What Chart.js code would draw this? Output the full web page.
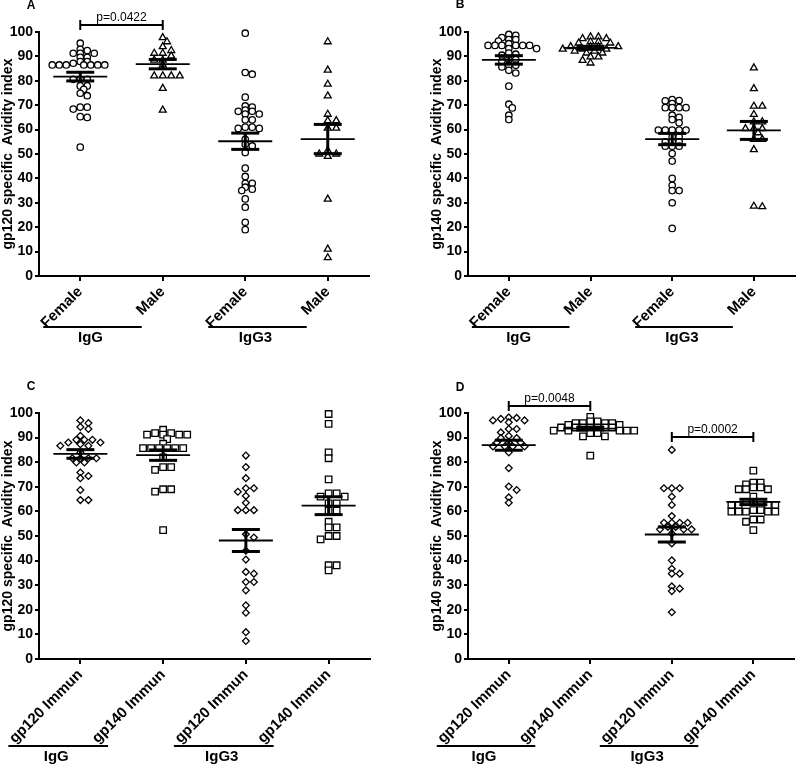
<!DOCTYPE html>
<html>
<head>
<meta charset="utf-8">
<script src="https://cdn.jsdelivr.net/npm/chart.js@4.4.1/dist/chart.umd.min.js"></script>
<style>
  body { margin: 0; background: #fff; width: 800px; height: 764px; position: relative; overflow: hidden; }
  canvas { position: absolute; }
</style>
</head>
<body>
<canvas id="panelA" width="400" height="380" style="left:0;top:0"></canvas>
<canvas id="panelB" width="400" height="380" style="left:400px;top:0"></canvas>
<canvas id="panelC" width="400" height="384" style="left:0;top:380px"></canvas>
<canvas id="panelD" width="400" height="384" style="left:400px;top:380px"></canvas>
<script>
// categories / tick labels
const sexLabels = ['Female', 'Male', 'Female', 'Male'];
const immunLabels = ['gp120 Immun', 'gp140 Immun', 'gp120 Immun', 'gp140 Immun'];
const isotypes = ['IgG', 'IgG3'];
const yMin = 0, yMax = 100, yStep = 10;

// A: gp120 specific avidity by sex
const a120IgGFemale = [95.4, 92.9, 92.4, 91.3, 91.3, 91.3, 89.6, 89.6, 87.9, 87.9, 87.2, 86.5, 86.5, 86.5, 86.5, 86.5, 86.5, 86.5, 80.6, 80.6, 80.6, 77.9, 77.9, 76.5, 74.9, 73.9, 69.2, 69.2, 68.4, 65.3, 65.0, 52.8];
const a120IgGMale = [97.7, 96.0, 94.0, 92.4, 91.3, 91.3, 90.2, 88.5, 88.5, 86.5, 82.0, 82.0, 82.0, 82.0, 76.9, 68.0];
const a120IgG3Female = [99.5, 83.4, 82.7, 73.3, 69.7, 69.2, 68.0, 67.5, 67.5, 66.4, 66.4, 64.0, 64.0, 61.0, 60.5, 60.5, 61.0, 56.0, 54.0, 53.3, 50.6, 44.2, 40.8, 38.0, 38.0, 36.4, 35.0, 35.6, 31.6, 28.2, 22.0, 19.0];
const a120IgG3Male = [96.0, 84.4, 78.6, 73.8, 66.3, 63.7, 63.7, 60.6, 60.6, 51.4, 50.0, 50.0, 49.0, 31.5, 11.0, 7.5];

// B: gp140 specific avidity by sex
const a140IgGFemale = [99.0, 98.6, 97.7, 96.9, 96.9, 96.3, 95.2, 94.5, 94.5, 94.5, 94.5, 94.5, 94.5, 93.2, 93.2, 91.4, 90.9, 90.5, 88.7, 88.7, 88.1, 86.4, 86.4, 85.7, 84.3, 83.2, 77.8, 70.4, 68.9, 65.9, 64.1];
const a140IgGMale = [98.0, 98.0, 97.3, 97.3, 96.0, 96.0, 95.5, 95.5, 94.0, 94.0, 94.0, 94.0, 93.0, 93.0, 93.0, 92.2, 92.2, 91.4, 91.4, 89.8, 89.8, 88.4, 87.3];
const a140IgG3Female = [72.3, 71.8, 71.9, 70.7, 69.0, 69.0, 69.0, 69.0, 65.9, 65.0, 64.1, 62.8, 59.8, 59.8, 59.8, 59.8, 59.8, 57.0, 57.0, 55.0, 55.0, 55.0, 53.2, 53.2, 53.2, 50.2, 47.1, 40.0, 37.2, 35.0, 35.0, 30.0, 19.5];
const a140IgG3Male = [85.3, 76.8, 69.6, 69.6, 66.2, 63.2, 63.2, 60.4, 60.4, 60.4, 58.7, 56.0, 56.0, 51.8, 28.4, 28.6];

// C: gp120 specific avidity by immunogen
const a120IgGgp120 = [97.0, 95.9, 94.3, 93.5, 90.7, 89.1, 89.1, 89.1, 88.0, 88.0, 87.3, 86.7, 86.7, 84.0, 81.6, 81.6, 81.6, 81.6, 79.9, 79.9, 75.8, 74.4, 73.5, 68.7, 64.6, 64.6];
const a120IgGgp140 = [93.2, 91.8, 91.8, 91.2, 91.2, 91.2, 91.2, 89.4, 87.5, 85.7, 85.7, 85.7, 85.7, 85.7, 85.7, 82.0, 78.0, 78.0, 76.9, 69.0, 69.0, 68.0, 52.4];
const a120IgG3gp120 = [82.7, 78.0, 73.5, 69.4, 69.4, 68.0, 66.3, 63.5, 60.5, 60.5, 60.5, 50.7, 49.4, 44.0, 40.4, 35.4, 34.7, 31.3, 31.3, 27.9, 21.8, 18.8, 10.9, 7.3];
const a120IgG3gp140 = [99.6, 95.6, 84.0, 81.6, 73.0, 67.3, 67.3, 66.0, 66.0, 63.3, 63.3, 60.3, 60.3, 55.8, 53.5, 53.5, 50.0, 50.0, 48.6, 38.1, 38.1, 36.0];

// D: gp140 specific avidity by immunogen
const a140IgGgp120 = [98.2, 98.0, 97.6, 97.0, 97.0, 96.2, 93.5, 93.5, 92.1, 90.7, 89.8, 89.8, 88.0, 88.0, 88.0, 86.4, 86.4, 86.4, 86.4, 84.0, 77.6, 70.1, 68.7, 65.7, 63.5];
const a140IgGgp140 = [98.4, 96.6, 96.6, 95.9, 95.9, 95.9, 95.9, 95.2, 95.2, 94.1, 94.1, 94.1, 94.1, 94.1, 94.1, 94.1, 92.8, 92.8, 92.8, 92.8, 92.8, 91.8, 91.8, 90.5, 90.5, 82.7];
const a140IgG3gp120 = [85.0, 69.4, 69.4, 69.4, 66.0, 62.6, 58.1, 55.4, 55.4, 55.4, 55.4, 53.7, 53.7, 52.7, 52.7, 52.7, 51.0, 47.0, 40.1, 36.7, 34.7, 34.7, 29.5, 28.6, 27.6, 19.0];
const a140IgG3gp140 = [76.6, 71.7, 71.7, 71.0, 69.8, 69.8, 69.0, 69.0, 69.0, 66.0, 63.9, 63.9, 63.9, 62.6, 62.6, 62.6, 62.6, 60.5, 60.5, 59.9, 59.9, 59.9, 59.9, 59.9, 56.7, 56.7, 55.8, 52.4];

// significance labels
const pA = 'p=0.0422';
const pD1 = 'p=0.0048';
const pD2 = 'p=0.0002';

const FONT = "'Liberation Sans', Arial, sans-serif";
const PX_Y = 2.44;   // approx px per avidity unit
const PX_X = 82.5;   // approx px per category

// simple beeswarm; points may overlap a bit vertically like the Prism layout
function swarm(vals, gap) {
  const order = vals.map((v, i) => i).sort((a, b) => vals[b] - vals[a]);
  const placed = [];
  const offs = new Array(vals.length);
  const vgap = gap * 0.55;
  order.forEach(i => {
    const y = vals[i] * PX_Y;
    let o = 0;
    for (let k = 0; k < 80; k++) {
      const c = (k % 2 ? 1 : -1) * Math.ceil(k / 2) * gap / 2;
      const ok = placed.every(p => {
        const dx = (p.x - c) / gap, dy = (p.y - y) / vgap;
        return dx * dx + dy * dy >= 0.999;
      });
      if (ok) { o = c; break; }
    }
    placed.push({ x: o, y: y });
    offs[i] = o / PX_X;
  });
  return offs;
}

function stats(vals) {
  const n = vals.length;
  const m = vals.reduce((a, b) => a + b, 0) / n;
  const sd = Math.sqrt(vals.reduce((a, b) => a + (b - m) * (b - m), 0) / (n - 1));
  return { mean: m, sem: sd / Math.sqrt(n) };
}

function line(ctx, x1, y1, x2, y2) {
  ctx.beginPath(); ctx.moveTo(x1, y1); ctx.lineTo(x2, y2); ctx.stroke();
}

function makePanel(id, cfg) {
  const datasets = cfg.groups.map((vals, gi) => {
    const offs = swarm(vals, cfg.gaps[gi]);
    return {
      data: vals.map((v, i) => ({ x: gi + 1 + offs[i], y: v })),
      pointStyle: cfg.styles[gi],
      pointRadius: cfg.radii[gi],
      pointBorderWidth: 1.3,
      pointBorderColor: '#000',
      pointBackgroundColor: '#fff',
      clip: false
    };
  });

  const overlay = {
    id: 'overlay' + id,
    afterDatasetsDraw(chart) {
      const { ctx, scales: { x, y } } = chart;
      ctx.save();
      ctx.strokeStyle = '#000';
      cfg.groups.forEach((vals, gi) => {
        const s = stats(vals);
        const cx = x.getPixelForValue(gi + 1);
        const ym = y.getPixelForValue(s.mean);
        const yh = y.getPixelForValue(s.mean + s.sem);
        const yl = y.getPixelForValue(s.mean - s.sem);
        ctx.lineWidth = 1.8;
        line(ctx, cx - 27, ym, cx + 27, ym);
        ctx.lineWidth = 3;
        line(ctx, cx, yh, cx, yl);
        line(ctx, cx - 14, yh, cx + 14, yh);
        line(ctx, cx - 14, yl, cx + 14, yl);
      });
      ctx.restore();
    },
    afterDraw(chart) {
      const { ctx, chartArea, scales: { x } } = chart;
      ctx.save();
      ctx.strokeStyle = '#000';
      ctx.fillStyle = '#000';
      // panel letter
      ctx.font = 'bold 12px ' + FONT;
      ctx.textAlign = 'center';
      ctx.textBaseline = 'middle';
      ctx.fillText(cfg.letter, chartArea.left - 8, cfg.letterY);
      // p-value brackets
      cfg.brackets.forEach(b => {
        const xa = x.getPixelForValue(b.from), xb = x.getPixelForValue(b.to);
        const ly = chartArea.top + b.dy;
        ctx.lineWidth = 2;
        line(ctx, xa, ly, xb, ly);
        line(ctx, xa, ly - 5, xa, ly + 5);
        line(ctx, xb, ly - 5, xb, ly + 5);
        ctx.font = '12px ' + FONT;
        ctx.textBaseline = 'alphabetic';
        ctx.fillText(b.text, (xa + xb) / 2, ly - 4);
      });
      // isotype group labels under the axis
      ctx.font = 'bold 15px ' + FONT;
      ctx.textBaseline = 'middle';
      isotypes.forEach((name, k) => {
        const x1 = x.getPixelForValue(2 * k + 1) + cfg.under[0];
        const x2 = x.getPixelForValue(2 * k + 2) + cfg.under[1];
        ctx.lineWidth = 2;
        line(ctx, x1, cfg.underY, x2, cfg.underY);
        ctx.fillText(name, (x1 + x2) / 2 - 2, cfg.underY + 11);
      });
      ctx.restore();
    }
  };

  return new Chart(document.getElementById(id), {
    type: 'scatter',
    data: { datasets },
    plugins: [overlay],
    options: {
      responsive: false,
      animation: false,
      layout: { padding: { top: cfg.top, left: cfg.padLeft, right: cfg.padRight, bottom: 0 } },
      plugins: { legend: { display: false }, tooltip: { enabled: false } },
      scales: {
        x: {
          type: 'linear',
          min: 0.5,
          max: 4.5,
          afterBuildTicks: s => { s.ticks = [1, 2, 3, 4].map(v => ({ value: v })); },
          afterFit: s => { s.height = cfg.xHeight; },
          border: { display: true, color: '#000', width: 2 },
          grid: { display: true, drawOnChartArea: false, drawTicks: true, tickLength: 5, color: '#000', lineWidth: 2 },
          ticks: {
            autoSkip: false,
            minRotation: 45,
            maxRotation: 45,
            padding: 2,
            color: '#000',
            font: { family: FONT, size: 15, weight: 'bold' },
            callback: v => cfg.cats[v - 1]
          }
        },
        y: {
          min: yMin,
          max: yMax,
          afterFit: s => { s.width = 39; },
          border: { display: true, color: '#000', width: 2 },
          grid: { display: true, drawOnChartArea: false, drawTicks: true, tickLength: 4, color: '#000', lineWidth: 2 },
          ticks: {
            stepSize: yStep,
            padding: 2,
            color: '#000',
            font: { family: FONT, size: 14, weight: 'bold' }
          },
          title: {
            display: true,
            text: cfg.yTitle,
            color: '#000',
            padding: { top: 0, bottom: 0 },
            font: { family: FONT, size: 14, weight: 'bold' }
          }
        }
      }
    }
  });
}

const sexStyles = ['circle', 'triangle', 'circle', 'triangle'];
const immStyles = ['rectRot', 'rect', 'rectRot', 'rect'];

makePanel('panelA', {
  letter: 'A', letterY: 6, top: 32, padLeft: 0, padRight: 31, xHeight: 104,
  cats: sexLabels, yTitle: 'gp120 specific  Avidity index',
  groups: [a120IgGFemale, a120IgGMale, a120IgG3Female, a120IgG3Male],
  styles: sexStyles, radii: [3.2, 4, 3.2, 4], gaps: [7, 8.5, 7, 8.5],
  brackets: [{ from: 1, to: 2, dy: -7, text: pA }],
  under: [-37, -21], underY: 327
});

makePanel('panelB', {
  letter: 'B', letterY: 5, top: 32, padLeft: 29, padRight: 2, xHeight: 104,
  cats: sexLabels, yTitle: 'gp140 specific  Avidity index',
  groups: [a140IgGFemale, a140IgGMale, a140IgG3Female, a140IgG3Male],
  styles: sexStyles, radii: [3.2, 4, 3.2, 4], gaps: [7, 8, 7, 8.5],
  brackets: [],
  under: [-37, -21], underY: 327
});

makePanel('panelC', {
  letter: 'C', letterY: 7, top: 33, padLeft: 0, padRight: 30, xHeight: 105,
  cats: immunLabels, yTitle: 'gp120 specific  Avidity index',
  groups: [a120IgGgp120, a120IgGgp140, a120IgG3gp120, a120IgG3gp140],
  styles: immStyles, radii: [3.4, 4.6, 3.4, 4.6], gaps: [8, 8, 8, 8],
  brackets: [],
  under: [-72, -55], underY: 366
});

makePanel('panelD', {
  letter: 'D', letterY: 8, top: 33, padLeft: 29, padRight: 2, xHeight: 105,
  cats: immunLabels, yTitle: 'gp140 specific  Avidity index',
  groups: [a140IgGgp120, a140IgGgp140, a140IgG3gp120, a140IgG3gp140],
  styles: immStyles, radii: [3.4, 4.6, 3.4, 4.6], gaps: [8, 7.4, 8, 7.4],
  brackets: [{ from: 1, to: 2, dy: -7, text: pD1 }, { from: 3, to: 4, dy: 24, text: pD2 }],
  under: [-72, -55], underY: 366
});
</script>
</body>
</html>
